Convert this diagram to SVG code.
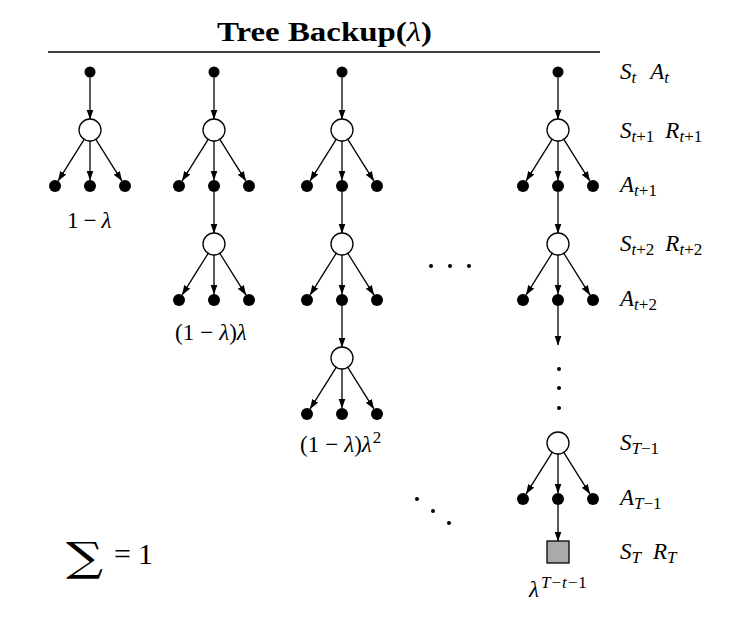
<svg xmlns="http://www.w3.org/2000/svg" width="756" height="624" viewBox="0 0 756 624">
<style>
.bg{fill:#fff}
.dot{fill:#000}
.open{fill:#fff;stroke:#000;stroke-width:1.3}
.term{fill:#aaa;stroke:#000;stroke-width:1.3}
.edge{stroke:#000;stroke-width:1.3;fill:none;marker-end:url(#ah)}
.m{font-family:"Liberation Serif","DejaVu Serif",serif;font-size:23px;fill:#000}
.it{font-style:italic}
.sub{font-size:17px}
.sm{fill:#000}
</style>
<defs>
<marker id="ah" markerWidth="10" markerHeight="8" refX="9.5" refY="3.5" orient="auto" markerUnits="userSpaceOnUse">
<path d="M0,0 L10,3.5 L0,7 z" fill="#000"/>
</marker>
</defs>
<rect class="bg" x="0" y="0" width="756" height="624"/>
<g id="title">
<text x="217" y="41" font-family="Liberation Serif,DejaVu Serif,serif" font-size="28" font-weight="bold" textLength="215" lengthAdjust="spacingAndGlyphs">Tree Backup(<tspan font-style="italic" font-weight="normal">λ</tspan>)</text>
<line x1="48" y1="52" x2="600" y2="52" stroke="#000" stroke-width="1.3"/>
</g>
<g id="connectors">
<line class="edge" x1="90" y1="77.5" x2="90" y2="119"/>
<line class="edge" x1="84.17" y1="139.33" x2="58.18" y2="180.91"/>
<line class="edge" x1="90" y1="141" x2="90" y2="180"/>
<line class="edge" x1="95.83" y1="139.33" x2="121.82" y2="180.91"/>

<line class="edge" x1="214" y1="77.5" x2="214" y2="119"/>
<line class="edge" x1="208.17" y1="139.33" x2="182.18" y2="180.91"/>
<line class="edge" x1="214" y1="141" x2="214" y2="180"/>
<line class="edge" x1="219.83" y1="139.33" x2="245.82" y2="180.91"/>
<line class="edge" x1="214" y1="192" x2="214" y2="233"/>
<line class="edge" x1="208.17" y1="253.33" x2="182.18" y2="294.91"/>
<line class="edge" x1="214" y1="255" x2="214" y2="294"/>
<line class="edge" x1="219.83" y1="253.33" x2="245.82" y2="294.91"/>

<line class="edge" x1="342" y1="77.5" x2="342" y2="119"/>
<line class="edge" x1="336.17" y1="139.33" x2="310.18" y2="180.91"/>
<line class="edge" x1="342" y1="141" x2="342" y2="180"/>
<line class="edge" x1="347.83" y1="139.33" x2="373.82" y2="180.91"/>
<line class="edge" x1="342" y1="192" x2="342" y2="233"/>
<line class="edge" x1="336.17" y1="253.33" x2="310.18" y2="294.91"/>
<line class="edge" x1="342" y1="255" x2="342" y2="294"/>
<line class="edge" x1="347.83" y1="253.33" x2="373.82" y2="294.91"/>
<line class="edge" x1="342" y1="306" x2="342" y2="347"/>
<line class="edge" x1="336.17" y1="367.33" x2="310.18" y2="408.91"/>
<line class="edge" x1="342" y1="369" x2="342" y2="408"/>
<line class="edge" x1="347.83" y1="367.33" x2="373.82" y2="408.91"/>

<line class="edge" x1="558" y1="77.5" x2="558" y2="119"/>
<line class="edge" x1="552.17" y1="139.33" x2="526.18" y2="180.91"/>
<line class="edge" x1="558" y1="141" x2="558" y2="180"/>
<line class="edge" x1="563.83" y1="139.33" x2="589.82" y2="180.91"/>
<line class="edge" x1="558" y1="192" x2="558" y2="233"/>
<line class="edge" x1="552.17" y1="253.33" x2="526.18" y2="294.91"/>
<line class="edge" x1="558" y1="255" x2="558" y2="294"/>
<line class="edge" x1="563.83" y1="253.33" x2="589.82" y2="294.91"/>
<line class="edge" x1="558" y1="306" x2="558" y2="345"/>
<line class="edge" x1="552.17" y1="452.33" x2="526.18" y2="493.91"/>
<line class="edge" x1="558" y1="454" x2="558" y2="493"/>
<line class="edge" x1="563.83" y1="452.33" x2="589.82" y2="493.91"/>
<line class="edge" x1="558" y1="505" x2="558" y2="541"/>
</g>

<g id="col1">
<circle class="dot" cx="90" cy="72" r="5.5"/>
<circle class="open" cx="90" cy="130" r="11"/>
<circle class="dot" cx="55" cy="186" r="6"/>
<circle class="dot" cx="90" cy="186" r="6"/>
<circle class="dot" cx="125" cy="186" r="6"/>
</g>
<g id="col2">
<circle class="dot" cx="214" cy="72" r="5.5"/>
<circle class="open" cx="214" cy="130" r="11"/>
<circle class="dot" cx="179" cy="186" r="6"/>
<circle class="dot" cx="214" cy="186" r="6"/>
<circle class="dot" cx="249" cy="186" r="6"/>
<circle class="open" cx="214" cy="244" r="11"/>
<circle class="dot" cx="179" cy="300" r="6"/>
<circle class="dot" cx="214" cy="300" r="6"/>
<circle class="dot" cx="249" cy="300" r="6"/>
</g>
<g id="col3">
<circle class="dot" cx="342" cy="72" r="5.5"/>
<circle class="open" cx="342" cy="130" r="11"/>
<circle class="dot" cx="307" cy="186" r="6"/>
<circle class="dot" cx="342" cy="186" r="6"/>
<circle class="dot" cx="377" cy="186" r="6"/>
<circle class="open" cx="342" cy="244" r="11"/>
<circle class="dot" cx="307" cy="300" r="6"/>
<circle class="dot" cx="342" cy="300" r="6"/>
<circle class="dot" cx="377" cy="300" r="6"/>
<circle class="open" cx="342" cy="358" r="11"/>
<circle class="dot" cx="307" cy="414" r="6"/>
<circle class="dot" cx="342" cy="414" r="6"/>
<circle class="dot" cx="377" cy="414" r="6"/>
</g>
<g id="col4">
<circle class="dot" cx="558" cy="72" r="5.5"/>
<circle class="open" cx="558" cy="130" r="11"/>
<circle class="dot" cx="523" cy="186" r="6"/>
<circle class="dot" cx="558" cy="186" r="6"/>
<circle class="dot" cx="593" cy="186" r="6"/>
<circle class="open" cx="558" cy="244" r="11"/>
<circle class="dot" cx="523" cy="300" r="6"/>
<circle class="dot" cx="558" cy="300" r="6"/>
<circle class="dot" cx="593" cy="300" r="6"/>
<circle class="open" cx="558" cy="443" r="11"/>
<circle class="dot" cx="523" cy="499" r="6"/>
<circle class="dot" cx="558" cy="499" r="6"/>
<circle class="dot" cx="593" cy="499" r="6"/>
<rect class="term" x="547" y="541" width="22" height="22"/>
</g>
<g id="ellipses">
<circle class="sm" cx="559" cy="369" r="2"/>
<circle class="sm" cx="559" cy="388" r="2"/>
<circle class="sm" cx="559" cy="408" r="2"/>
<circle class="sm" cx="431" cy="266" r="2"/>
<circle class="sm" cx="450" cy="266" r="2"/>
<circle class="sm" cx="469" cy="266" r="2"/>
<circle class="sm" cx="417" cy="499" r="2"/>
<circle class="sm" cx="433" cy="511" r="2"/>
<circle class="sm" cx="449" cy="523" r="2"/>
</g>
<g id="weights">
<text class="m" x="67" y="228">1<tspan dx="5">−</tspan><tspan class="it" dx="5">λ</tspan></text>
<text class="m" x="175" y="340">(1<tspan dx="6">−</tspan><tspan class="it" dx="6">λ</tspan>)<tspan class="it">λ</tspan></text>
<text class="m" x="300" y="452">(1<tspan dx="6">−</tspan><tspan class="it" dx="6">λ</tspan>)<tspan class="it">λ</tspan><tspan class="sub" dx="1" dy="-9">2</tspan></text>
<text class="m" x="529" y="597"><tspan class="it">λ</tspan><tspan class="sub" dx="2" dy="-9"><tspan class="it">T</tspan><tspan dx="1">−</tspan><tspan class="it" dx="1">t</tspan><tspan dx="1">−</tspan><tspan dx="1">1</tspan></tspan></text>
<text x="0" y="0" font-family="DejaVu Serif,serif" font-size="40" transform="translate(66,571) scale(1.3,1)">∑</text>
<text class="m" x="114" y="564" style="font-size:30px">=<tspan dx="7">1</tspan></text>
</g>
<g id="labels">
<text class="m" x="620" y="79"><tspan class="it">S</tspan><tspan class="sub it" dy="4">t</tspan><tspan class="it" dy="-4" dx="14">A</tspan><tspan class="sub it" dy="4">t</tspan></text>
<text class="m" x="620" y="138"><tspan class="it">S</tspan><tspan class="sub" dy="4"><tspan class="it">t</tspan>+1</tspan><tspan class="it" dy="-4" dx="11">R</tspan><tspan class="sub" dy="4"><tspan class="it">t</tspan>+1</tspan></text>
<text class="m" x="620" y="192"><tspan class="it">A</tspan><tspan class="sub" dy="4"><tspan class="it">t</tspan>+1</tspan></text>
<text class="m" x="620" y="251"><tspan class="it">S</tspan><tspan class="sub" dy="4"><tspan class="it">t</tspan>+2</tspan><tspan class="it" dy="-4" dx="11">R</tspan><tspan class="sub" dy="4"><tspan class="it">t</tspan>+2</tspan></text>
<text class="m" x="620" y="306"><tspan class="it">A</tspan><tspan class="sub" dy="4"><tspan class="it">t</tspan>+2</tspan></text>
<text class="m" x="620" y="450"><tspan class="it">S</tspan><tspan class="sub" dy="4"><tspan class="it">T</tspan>−1</tspan></text>
<text class="m" x="620" y="505"><tspan class="it">A</tspan><tspan class="sub" dy="4"><tspan class="it">T</tspan>−1</tspan></text>
<text class="m" x="620" y="559"><tspan class="it">S</tspan><tspan class="sub it" dy="4">T</tspan><tspan class="it" dy="-4" dx="12">R</tspan><tspan class="sub it" dy="4">T</tspan></text>
</g>
</svg>
